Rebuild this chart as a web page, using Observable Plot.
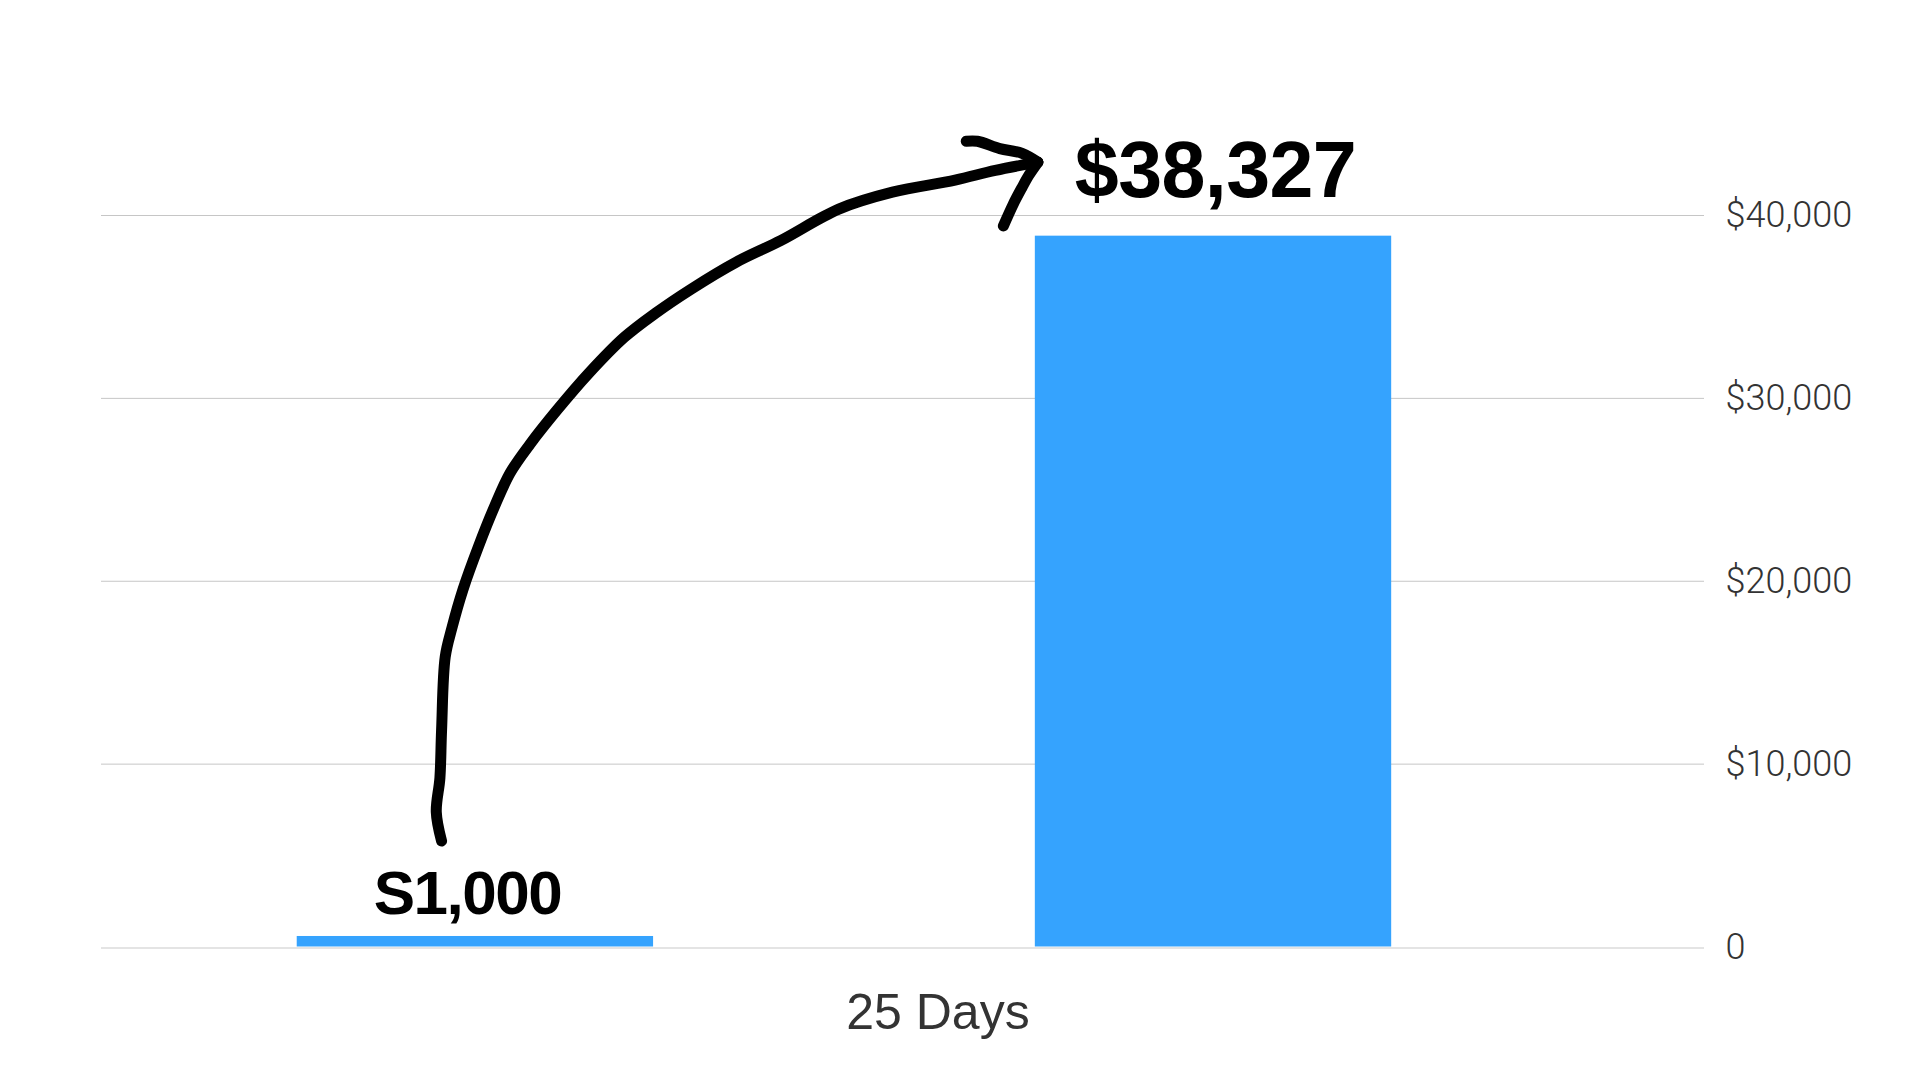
<!DOCTYPE html>
<html>
<head>
<meta charset="utf-8">
<script src="https://cdn.jsdelivr.net/npm/d3@7"></script>
<script src="https://cdn.jsdelivr.net/npm/@observablehq/plot@0.6"></script>
<style>
  html, body { margin: 0; padding: 0; background: #fff; }
  #chart svg { display: block; }
  g[font-size="79"] text { letter-spacing: -0.6px; }
  g[font-size="62"] text { letter-spacing: -1.5px; }
</style>
</head>
<body>
<div id="chart"></div>
<script>
// ---- data ----
const categories = ["Start", "25 Days"];
const barValues = [575, 38870];              // bar heights
const barLabels = ["S1,000", "$38,327"];     // annotation text as written
const yTicks = [0, 10000, 20000, 30000, 40000];
const xAxisLabel = "25 Days";

// hand-drawn arrow, in data units (x: category index, y: dollars)
const arrowShaft = [
  [-0.0458, 5793], [-0.0530, 7385], [-0.0481, 9240], [-0.0458, 11887],
  [-0.0409, 15859], [-0.0318, 17445], [-0.0167, 19563], [0.0046, 21948],
  [0.0257, 24065], [0.0470, 25919], [0.0742, 27506], [0.1106, 29360],
  [0.1530, 31346], [0.2015, 33332], [0.2439, 34656], [0.2924, 35979],
  [0.3529, 37440], [0.4135, 38627], [0.4923, 40350], [0.5650, 41275],
  [0.6499, 41937], [0.7044, 42467], [0.7620, 42916]
];
const arrowUpper = [
  [0.6650, 44059], [0.6801, 44059], [0.7105, 43660], [0.7407, 43397], [0.7620, 42916]
];
const arrowLower = [
  [0.7620, 42916], [0.7499, 42205], [0.7407, 41543], [0.7286, 40613], [0.7153, 39426]
];

// ---- tables built from the arrays ----
const bars = categories.map((c, i) => ({i, category: c, value: barValues[i], label: barLabels[i]}));
const arrow = [
  ...arrowShaft.map(([x, y]) => ({part: "shaft", x, y})),
  ...arrowUpper.map(([x, y]) => ({part: "upper", x, y})),
  ...arrowLower.map(([x, y]) => ({part: "lower", x, y}))
];

const halfBar = 0.2414;
const blue = "#35a3fe";
const fmt = d => d === 0 ? "0" : "$" + d3.format(",")(d);

const plot = Plot.plot({
  width: 1920,
  height: 1080,
  marginLeft: 101,
  marginRight: 216,
  marginTop: 215,
  marginBottom: 133.5,
  style: {background: "#fff", overflow: "visible"},
  x: {type: "linear", domain: [-0.50657, 1.66522], axis: null},
  y: {domain: [0, 40000], axis: null},
  marks: [
    Plot.ruleY(yTicks.filter(d => d !== 0), {stroke: "#c6c6c6", strokeWidth: 1}),
    Plot.ruleY([0], {stroke: "#e4e4e4", strokeWidth: 2, dy: 1}),
    Plot.axisY({
      ticks: yTicks, anchor: "right", tickSize: 0, tickPadding: 21,
      tickFormat: fmt, label: null,
      fontSize: 36, fontFamily: "Roboto", fontWeight: 300, fill: "#333"
    }),
    Plot.rectY(bars, {
      x1: d => d.i - halfBar, x2: d => d.i + halfBar,
      y1: 0, y2: "value", fill: blue
    }),
    Plot.text(bars.filter(d => d.i === 0), {
      x: "i", y: "value", text: "label", dx: -8, dy: -42.8,
      fontSize: 62, fontWeight: "bold", fontFamily: "Liberation Sans, Arial, sans-serif", fill: "#000"
    }),
    Plot.text(bars.filter(d => d.i === 1), {
      x: "i", y: "value", text: "label", dx: 2, dy: -64.3,
      fontSize: 79, fontWeight: "bold", fontFamily: "Liberation Sans, Arial, sans-serif", fill: "#000"
    }),
    Plot.text([xAxisLabel], {
      x: 0.6267, y: 0, text: d => d, dy: 65.8,
      fontSize: 50, fontFamily: "Liberation Sans, Arial, sans-serif", fill: "#333"
    }),
    Plot.line(arrow, {
      x: "x", y: "y", z: "part", curve: "catmull-rom",
      stroke: "#000", strokeWidth: 11, strokeLinecap: "round", strokeLinejoin: "round"
    })
  ]
});
document.getElementById("chart").appendChild(plot);
</script>
</body>
</html>
